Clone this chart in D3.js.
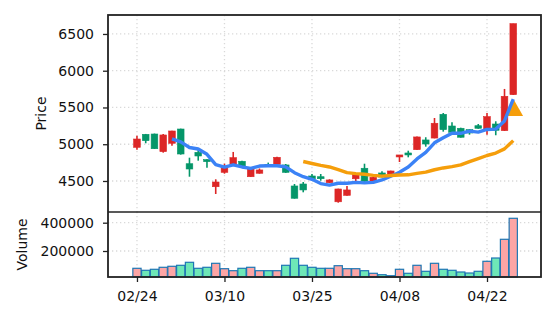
<!DOCTYPE html>
<html><head><meta charset="utf-8">
<script src="https://cdn.jsdelivr.net/npm/d3@7"></script>
<style>body{margin:0;background:#fff}svg{display:block}text{font-family:"DejaVu Sans",sans-serif;fill:#111}</style>
</head><body><svg id="c" width="556" height="322"></svg>
<script>
const dates = ["02/24","02/25","02/26","02/27","02/28","03/03","03/04","03/05","03/06","03/07",
  "03/10","03/11","03/12","03/13","03/14","03/17","03/18","03/19","03/20","03/21",
  "03/25","03/26","03/27","03/28","03/31","04/01","04/02","04/03","04/04","04/07",
  "04/08","04/09","04/10","04/11","04/14","04/15","04/16","04/17","04/18","04/21",
  "04/22","04/23","04/24","04/25"];
const opens  = [4958,5135,5139,4899,5013,5207,4735,4890,4790,4422,4618,4727,4768,4558,4605,4727,4727,4718,4432,4459,4568,4558,4477,4217,4305,4530,4673,4486,4609,4577,4827,4881,4926,5058,5084,5407,5248,5217,5198,5252,5198,5275,5185,5674];
const highs  = [5116,5140,5145,5139,5185,5212,4817,4939,4795,4523,4735,4895,4775,4690,4670,4750,4830,4731,4459,4486,4595,4595,4523,4395,4432,4600,4735,4560,4632,4640,4854,4912,5105,5095,5357,5425,5299,5225,5205,5275,5425,5312,5752,6640];
const lows   = [4926,5013,4935,4885,4980,4858,4558,4776,4681,4323,4599,4708,4694,4555,4600,4700,4720,4610,4260,4346,4520,4504,4470,4205,4300,4490,4490,4480,4550,4570,4758,4822,4920,4967,5080,5171,5150,5090,5130,5210,5130,5122,5180,5670];
const closes = [5071,5048,4939,5126,5180,4867,4663,4840,4763,4486,4694,4817,4694,4663,4650,4708,4822,4618,4265,4378,4531,4531,4514,4391,4378,4590,4496,4550,4554,4636,4854,4854,5099,5003,5285,5198,5163,5095,5153,5217,5375,5190,5652,6640];
const volumes = [77700,63600,70700,84800,91900,98900,120100,77700,84800,113000,74900,60800,77700,84800,60800,60800,60800,98900,148400,98900,84800,77700,77700,96100,74900,74900,60800,42400,32500,25400,70700,42400,98900,56500,113000,70700,63600,51600,44500,56500,127200,150500,282700,431100];
const maPeriods = [5, 20];
const signalIndex = [43];
const signalPrice = [5455];
const priceTicks = [4500, 5000, 5500, 6000, 6500];
const volumeTicks = [200000, 400000];
const xTickIndex = [0, 10, 20, 30, 40];

const C = {up:"#dc2626", down:"#059669", volUp:"#fca5a5", volDown:"#6ee7b7", volEdge:"#1f77b4",
  ma:["#3b82f6","#f59e0b"], grid:"#d9d9d9", spine:"#222"};

const L = 108, R = 541, T = 15, MB = 212, VB = 277;
const svg = d3.select("#c");
const idx = d3.range(closes.length);
const x = d3.scaleLinear().domain([-3.31, 46.17]).range([L, R]);
const y = d3.scaleLinear().domain([4078, 6758]).range([MB, T]);
const yv = d3.scaleLinear().domain([16250, 475600]).range([VB, MB]);

// grids
const g = svg.append("g");
function grid(x1,x2,y1,y2){
  g.append("line").attr("x1",x1).attr("x2",x2).attr("y1",y1).attr("y2",y2)
   .attr("stroke",C.grid).attr("stroke-width",1.3).attr("stroke-dasharray","1.3,2.7");
}
priceTicks.forEach(t=>grid(L,R,y(t),y(t)));
volumeTicks.forEach(t=>grid(L,R,yv(t),yv(t)));
xTickIndex.forEach(i=>{grid(x(i),x(i),T,MB);grid(x(i),x(i),MB,VB);});

// volume bars
svg.append("g").selectAll("rect").data(idx).join("rect")
  .attr("x", i=>x(i-0.47)).attr("width", x(0.47)-x(-0.47))
  .attr("y", i=>yv(volumes[i])).attr("height", i=>VB-yv(volumes[i]))
  .attr("fill", i=>closes[i]>=opens[i]?C.volUp:C.volDown)
  .attr("stroke", C.volEdge).attr("stroke-width",1.2);

// candles
const cg = svg.append("g");
cg.selectAll("line").data(idx).join("line")
  .attr("x1",i=>x(i)).attr("x2",i=>x(i)).attr("y1",i=>y(highs[i])).attr("y2",i=>y(lows[i]))
  .attr("stroke",i=>closes[i]>=opens[i]?C.up:C.down).attr("stroke-width",1.6);
const bw = (x(1)-x(0))*0.76;
cg.selectAll("rect").data(idx).join("rect")
  .attr("x",i=>x(i)-bw/2).attr("width",bw)
  .attr("y",i=>y(Math.max(opens[i],closes[i])))
  .attr("height",i=>Math.max(1.2,Math.abs(y(opens[i])-y(closes[i]))))
  .attr("fill",i=>closes[i]>=opens[i]?C.up:C.down)
  .attr("stroke",i=>closes[i]>=opens[i]?C.up:C.down).attr("stroke-width",0.6);

// signal markers
const sym = d3.symbol().type(d3.symbolTriangle).size(135);
svg.append("g").selectAll("path").data(signalIndex).join("path")
  .attr("transform",(d,j)=>`translate(${x(d)+1},${y(signalPrice[j])})`)
  .attr("d", sym).attr("fill","#f59e0b");

// moving averages
maPeriods.forEach((n,k)=>{
  const pts = idx.filter(i=>i>=n-1).map(i=>[i, d3.mean(closes.slice(i-n+1,i+1))]);
  svg.append("path").datum(pts)
    .attr("d", d3.line().x(d=>x(d[0])).y(d=>y(d[1])))
    .attr("fill","none").attr("stroke",C.ma[k]).attr("stroke-width",3.4).attr("stroke-linejoin","round");
});

// spines
const sp = svg.append("g").attr("fill","none").attr("stroke",C.spine);
sp.append("rect").attr("x",L).attr("y",T).attr("width",R-L).attr("height",VB-T).attr("stroke-width",1.8);
sp.append("line").attr("x1",L).attr("x2",R).attr("y1",MB).attr("y2",MB).attr("stroke-width",1.5);

// axes
const fs = 14;
const ya = svg.append("g").attr("transform",`translate(${L},0)`)
  .call(d3.axisLeft(y).tickValues(priceTicks).tickSize(5).tickPadding(9).tickFormat(d3.format("d")));
const yva = svg.append("g").attr("transform",`translate(${L},0)`)
  .call(d3.axisLeft(yv).tickValues(volumeTicks).tickSize(5).tickPadding(9).tickFormat(d3.format("d")));
const xa = svg.append("g").attr("transform",`translate(0,${VB})`)
  .call(d3.axisBottom(x).tickValues(xTickIndex).tickSize(5).tickPadding(9).tickFormat(i=>dates[i]));
[ya,yva,xa].forEach(a=>{
  a.select(".domain").remove();
  a.selectAll(".tick line").attr("stroke",C.spine).attr("stroke-width",1.3);
  a.selectAll(".tick text").attr("font-size",fs).attr("font-family","DejaVu Sans").attr("fill","#111");
});

svg.append("text").attr("transform",`translate(41,${(T+MB)/2}) rotate(-90)`)
  .attr("text-anchor","middle").attr("dominant-baseline","central").attr("font-size",fs).text("Price");
svg.append("text").attr("transform",`translate(22,${(MB+VB)/2}) rotate(-90)`)
  .attr("text-anchor","middle").attr("dominant-baseline","central").attr("font-size",fs).text("Volume");
</script></body></html>
